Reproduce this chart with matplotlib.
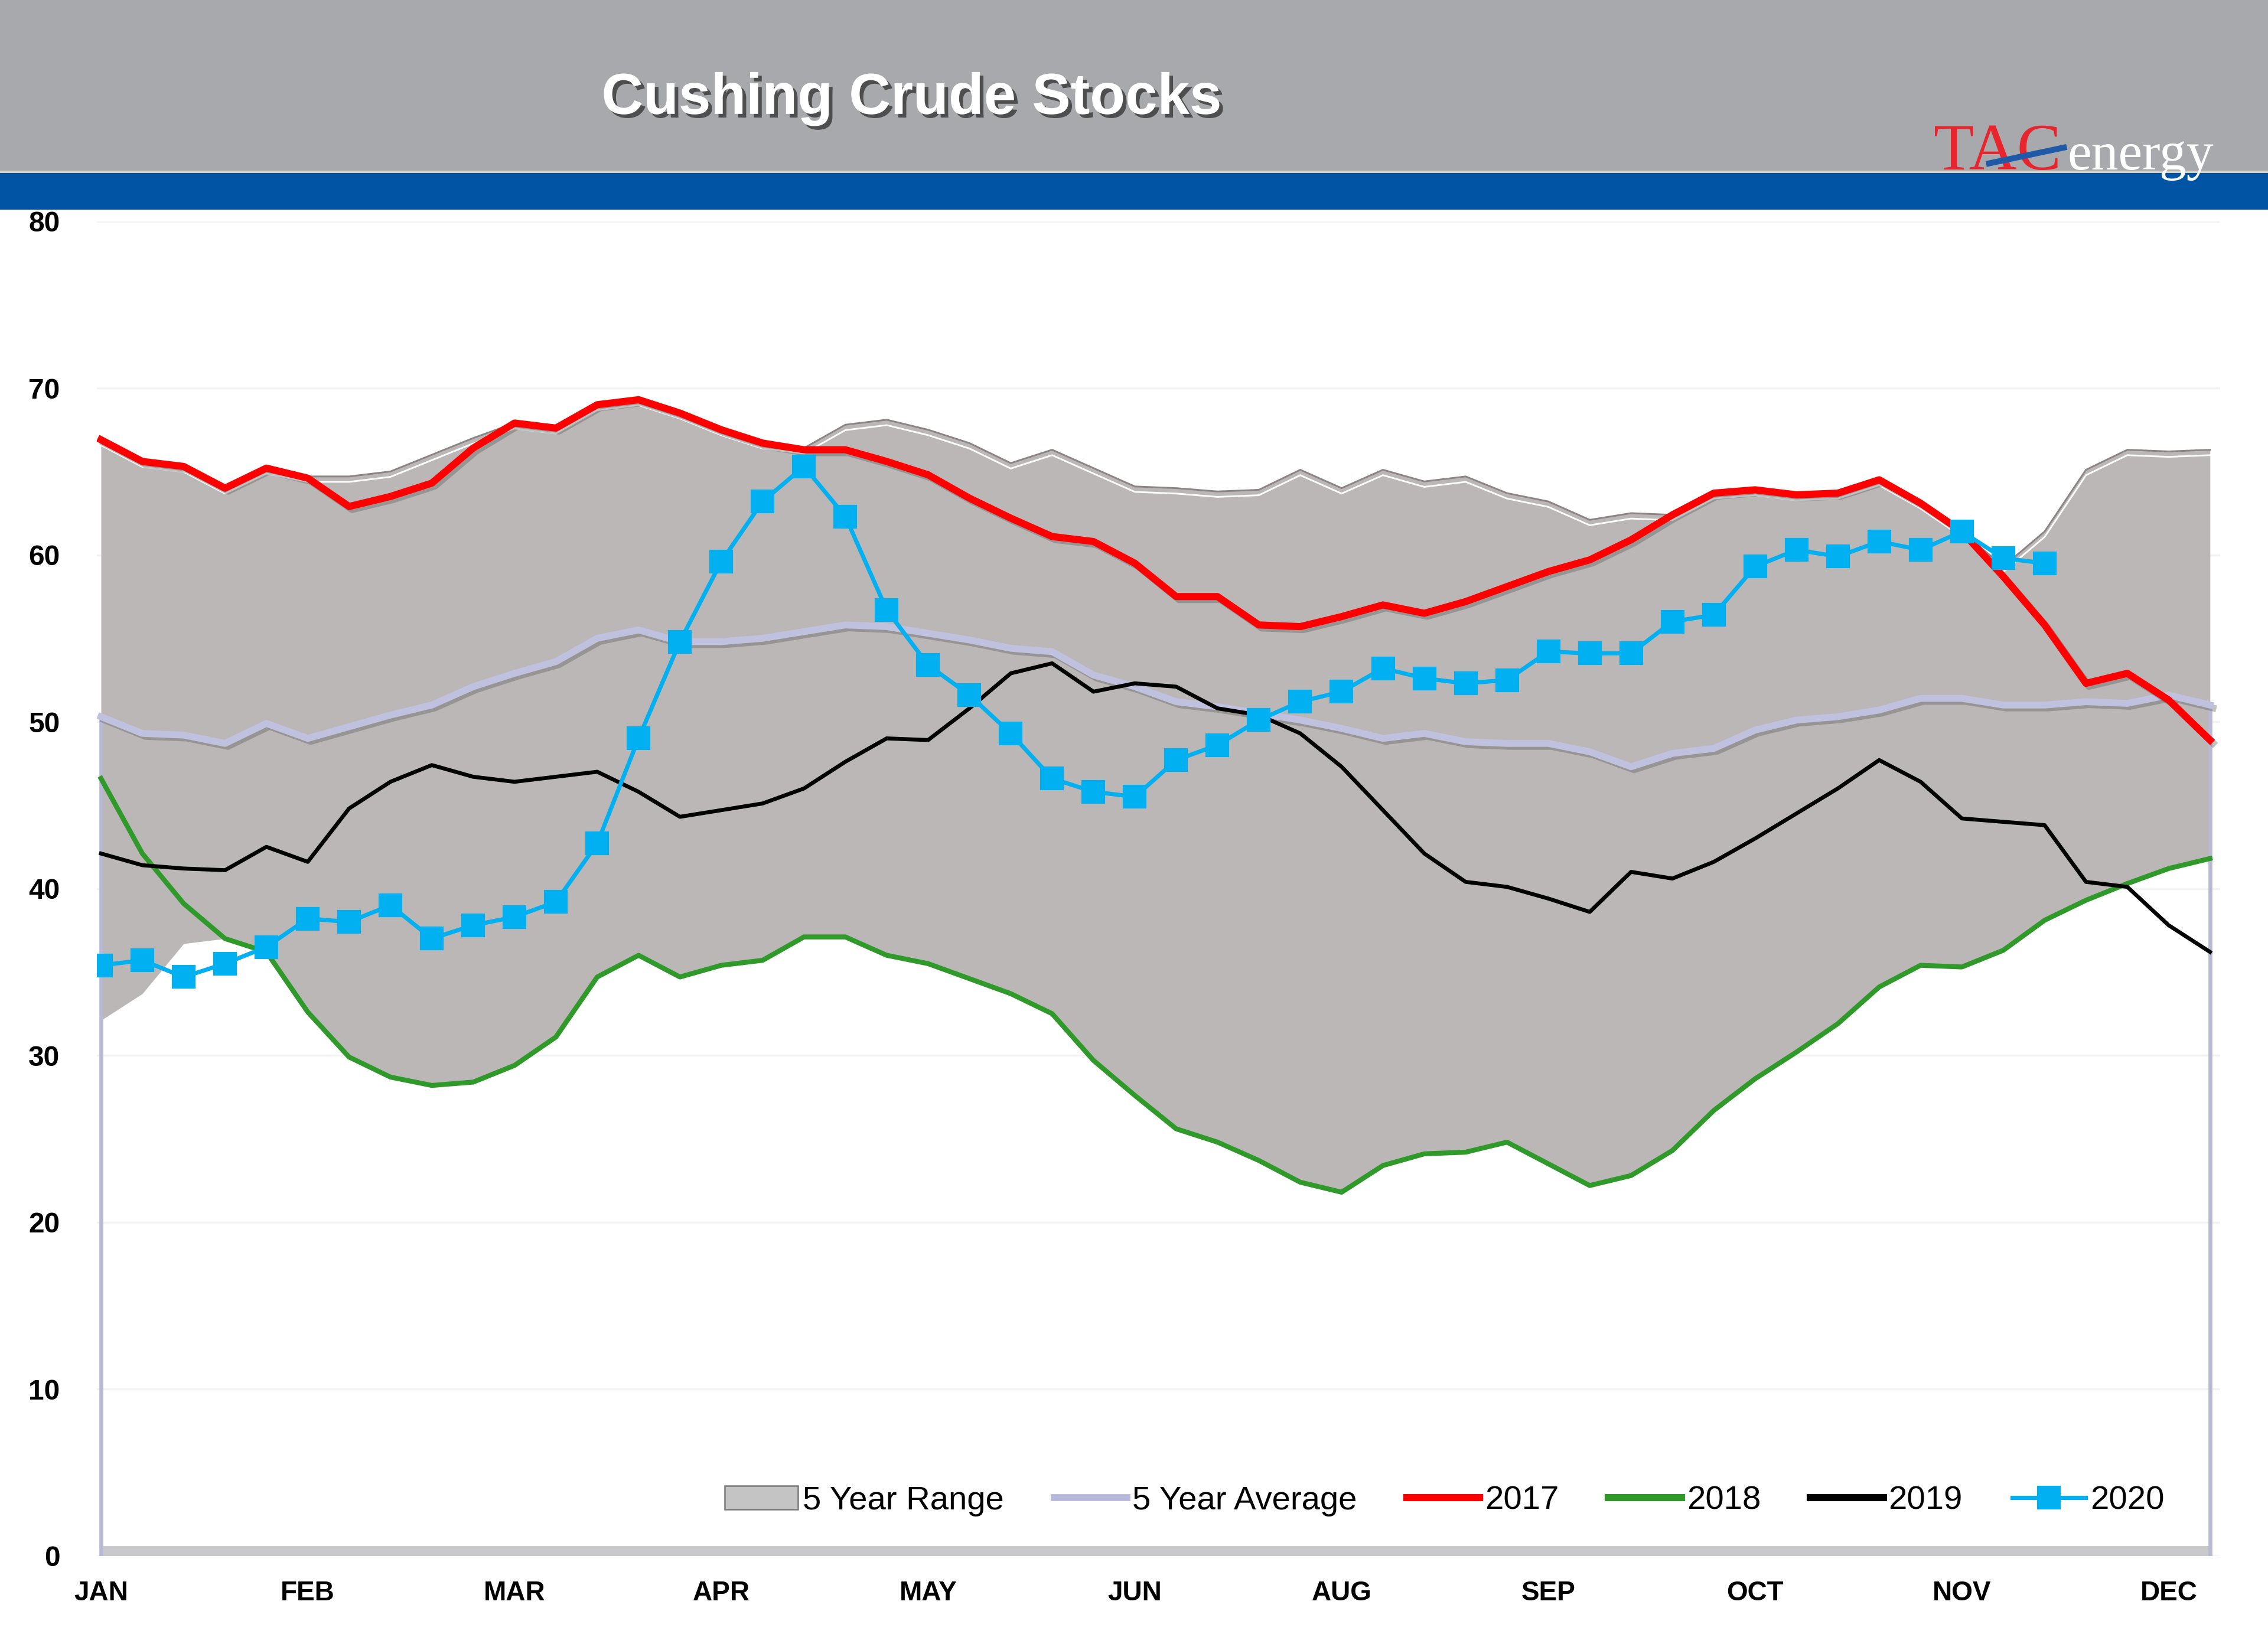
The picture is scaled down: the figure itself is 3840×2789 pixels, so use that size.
import matplotlib
matplotlib.use("Agg")
import matplotlib.pyplot as plt
import matplotlib.patheffects as pe
from matplotlib.patches import Rectangle, Patch
from matplotlib.lines import Line2D
import numpy as np

# weekly values, million barrels
weeks = np.arange(52)
month_ticks = [0, 5, 10, 15, 20, 25, 30, 35, 40, 45, 50]
month_labels = ['JAN', 'FEB', 'MAR', 'APR', 'MAY', 'JUN', 'AUG', 'SEP', 'OCT', 'NOV', 'DEC']

range_low = [32.1, 33.7, 36.7, 37.0, 36.2, 32.6, 29.9, 28.7, 28.2, 28.4,
             29.4, 31.1, 34.7, 36.0, 34.7, 35.4, 35.7, 37.1, 37.1, 36.0,
             35.5, 34.6, 33.7, 32.5, 29.7, 27.6, 25.6, 24.8, 23.7, 22.4,
             21.8, 23.4, 24.1, 24.2, 24.8, 23.5, 22.2, 22.8, 24.3, 26.7,
             28.6, 30.2, 31.9, 34.1, 35.4, 35.3, 36.3, 38.1, 39.3, 40.3,
             41.2, 41.8]
range_high = [66.9, 65.6, 65.3, 64.0, 65.2, 64.7, 64.7, 65.0, 66.0, 67.0,
              67.9, 67.6, 69.0, 69.3, 68.5, 67.5, 66.7, 66.4, 67.8, 68.1,
              67.5, 66.7, 65.5, 66.3, 65.2, 64.1, 64.0, 63.8, 63.9, 65.1,
              64.0, 65.1, 64.4, 64.7, 63.7, 63.2, 62.1, 62.5, 62.4, 63.7,
              63.9, 63.6, 63.7, 64.5, 63.1, 61.4, 59.3, 61.4, 65.1, 66.3,
              66.2, 66.3]
avg5 = [50.3, 49.3, 49.2, 48.7, 49.9, 49.0, 49.7, 50.4, 51.0, 52.1,
        52.9, 53.6, 55.0, 55.5, 54.8, 54.8, 55.0, 55.4, 55.8, 55.7,
        55.3, 54.9, 54.4, 54.2, 52.8, 52.1, 51.2, 50.9, 50.5, 50.1,
        49.6, 49.0, 49.3, 48.8, 48.7, 48.7, 48.2, 47.3, 48.1, 48.4,
        49.5, 50.1, 50.3, 50.7, 51.4, 51.4, 51.0, 51.0, 51.2, 51.1,
        51.6, 51.0]
y2017 = [66.9, 65.6, 65.3, 64.0, 65.2, 64.6, 62.9, 63.5, 64.3, 66.4,
         67.9, 67.6, 69.0, 69.3, 68.5, 67.5, 66.7, 66.3, 66.3, 65.6,
         64.8, 63.4, 62.2, 61.1, 60.8, 59.5, 57.5, 57.5, 55.8, 55.7,
         56.3, 57.0, 56.5, 57.2, 58.1, 59.0, 59.7, 60.9, 62.4, 63.7,
         63.9, 63.6, 63.7, 64.5, 63.1, 61.4, 58.7, 55.8, 52.3, 52.9,
         51.3, 48.9]
y2018 = [46.6, 42.1, 39.1, 37.0, 36.2, 32.6, 29.9, 28.7, 28.2, 28.4,
         29.4, 31.1, 34.7, 36.0, 34.7, 35.4, 35.7, 37.1, 37.1, 36.0,
         35.5, 34.6, 33.7, 32.5, 29.7, 27.6, 25.6, 24.8, 23.7, 22.4,
         21.8, 23.4, 24.1, 24.2, 24.8, 23.5, 22.2, 22.8, 24.3, 26.7,
         28.6, 30.2, 31.9, 34.1, 35.4, 35.3, 36.3, 38.1, 39.3, 40.3,
         41.2, 41.8]
y2019 = [42.1, 41.4, 41.2, 41.1, 42.5, 41.6, 44.8, 46.4, 47.4, 46.7,
         46.4, 46.7, 47.0, 45.8, 44.3, 44.7, 45.1, 46.0, 47.6, 49.0,
         48.9, 50.8, 52.9, 53.5, 51.8, 52.3, 52.1, 50.8, 50.4, 49.3,
         47.3, 44.7, 42.1, 40.4, 40.1, 39.4, 38.6, 41.0, 40.6, 41.6,
         43.0, 44.5, 46.0, 47.7, 46.4, 44.2, 44.0, 43.8, 40.4, 40.1,
         37.8, 36.2]
y2020 = [35.4, 35.7, 34.7, 35.5, 36.5, 38.2, 38.0, 39.0, 37.0, 37.8,
         38.3, 39.2, 42.7, 49.0, 54.8, 59.6, 63.2, 65.3, 62.3, 56.7,
         53.4, 51.6, 49.3, 46.6, 45.8, 45.5, 47.7, 48.6, 50.1, 51.2,
         51.8, 53.2, 52.6, 52.3, 52.5, 54.2, 54.1, 54.1, 56.0, 56.4,
         59.3, 60.3, 59.9, 60.8, 60.3, 61.4, 59.8, 59.5]

fig = plt.figure(figsize=(12.8, 9.2967), dpi=300)
fig.patch.set_facecolor('white')

# header band
fig.patches.append(Rectangle((0, 0.896), 1, 0.104, transform=fig.transFigure,
                             facecolor='#a7a9ac', edgecolor='none', zorder=0))
fig.patches.append(Rectangle((0, 0.8946), 1, 0.0016, transform=fig.transFigure,
                             facecolor='#d6cfc6', edgecolor='none', zorder=0))
fig.patches.append(Rectangle((0, 0.8727), 1, 0.0221, transform=fig.transFigure,
                             facecolor='#0054a3', edgecolor='none', zorder=0))
fig.text(0.402, 0.940, 'Cushing Crude Stocks', color='white', fontsize=23.5,
         fontweight='bold', family='Liberation Sans', ha='center', va='center',
         path_effects=[pe.withSimplePatchShadow(offset=(1.5, -1.5),
                                                shadow_rgbFace='#444444', alpha=0.9)])
# logo
fig.text(0.8525, 0.897, 'TAC', color='#e8242c', fontsize=27, family='Liberation Serif',
         ha='left', va='baseline', zorder=3)
fig.text(0.9115, 0.897, 'energy', color='white', fontsize=22, family='Liberation Serif',
         ha='left', va='baseline', zorder=3)
fig.lines.append(Line2D([0.877, 0.910], [0.9008, 0.9104], transform=fig.transFigure,
                        color='#1f5aa8', lw=2.4, zorder=4))

ax = fig.add_axes([0.0427, 0.0553, 0.9363, 0.8104])
ax.set_xlim(-0.1, 51.25)
ax.set_ylim(0, 80)
ax.set_yticks(np.arange(0, 81, 10))
ax.yaxis.grid(True, color='#f3f3f3', lw=0.8)
ax.set_axisbelow(True)
for s in ax.spines.values():
    s.set_visible(False)

# 5 year range
ax.fill_between(weeks, range_low, range_high, color='#bbb7b6', lw=0, zorder=1)
ax.plot(weeks, range_high, color='#8c8484', lw=0.7, zorder=2,
        path_effects=[pe.SimpleLineShadow(offset=(0, -2.2), shadow_color='white', alpha=0.95, rho=1),
                      pe.Normal()])
# bottom shadow & side edges
ax.plot([0, 51], [0.25, 0.25], color='#c9c9cc', lw=5, zorder=2, solid_capstyle='butt')
ax.vlines([0, 51], 0, [avg5[0], avg5[-1]], color='#b9b9d6', lw=1.6, zorder=2)

shadow = [pe.SimpleLineShadow(offset=(1.2, -1.2), shadow_color='#555555', alpha=0.35), pe.Normal()]
ax.plot(weeks, avg5, color='#c0c0df', lw=2.8, zorder=3, path_effects=shadow)
ax.plot(weeks, y2017, color='#ff0000', lw=2.9, zorder=4, path_effects=shadow)
ax.plot(weeks, y2018, color='#2f9a2a', lw=2.0, zorder=4)
ax.plot(weeks, y2019, color='black', lw=1.6, zorder=4)
ax.plot(weeks[:len(y2020)], y2020, color='#00b0f0', lw=1.7, marker='s',
        markersize=8.5, zorder=5)

ax.set_xticks(month_ticks)
ax.set_xticklabels(month_labels, fontsize=11, fontweight='bold', family='Liberation Sans')
ax.tick_params(axis='x', length=0, pad=10)
ax.tick_params(axis='y', length=0, pad=15, labelsize=11.5)
for t in ax.get_yticklabels():
    t.set_fontweight('bold')
    t.set_family('Liberation Sans')

handles = [
    Patch(facecolor='#c4c4c4', edgecolor='#7a7a7a', lw=0.6),
    Line2D([], [], color='#b8b8dc', lw=2.8),
    Line2D([], [], color='#ff0000', lw=2.9),
    Line2D([], [], color='#2f9a2a', lw=2.9),
    Line2D([], [], color='black', lw=2.9),
    Line2D([], [], color='#00b0f0', lw=1.7, marker='s', markersize=8.5),
]
labels = ['5 Year Range', '5 Year Average', '2017', '2018', '2019', '2020']
fig.legend(handles, labels, loc='center', bbox_to_anchor=(0.637, 0.0887), ncol=6,
           frameon=False, handlelength=2.2, handletextpad=0.15, columnspacing=1.5,
           prop={'family': 'Liberation Sans', 'size': 13.5})

fig.savefig('out.png', dpi=300)
